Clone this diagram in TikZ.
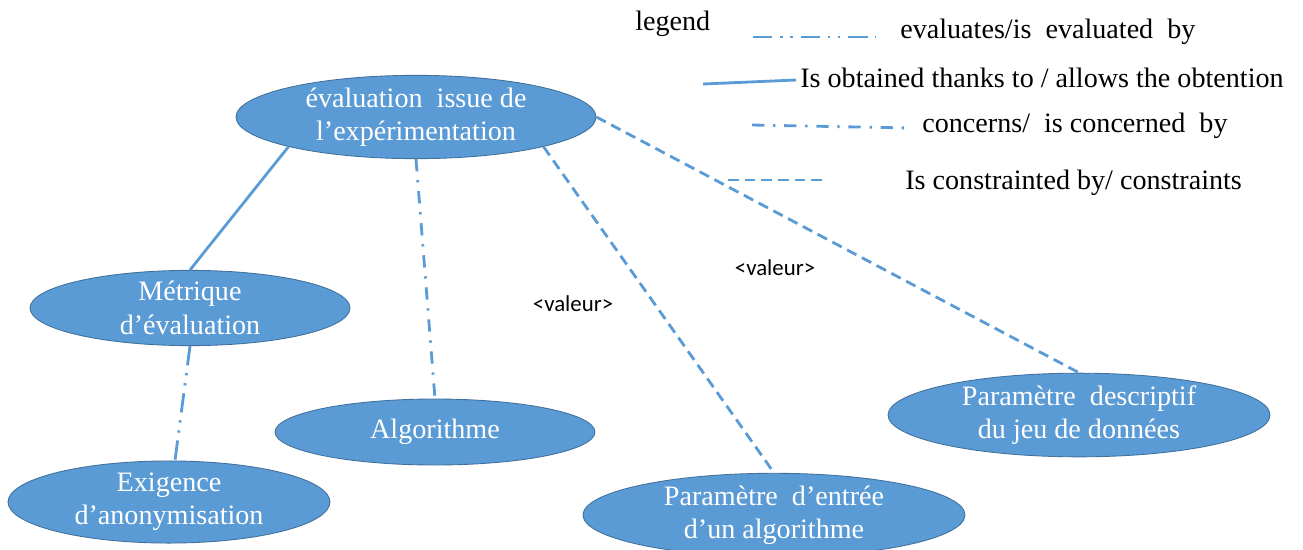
\documentclass[tikz,border=0pt]{standalone}
\usepackage{fontspec}
\setmainfont{Liberation Serif}
\newfontfamily\calibri{Carlito}
\usetikzlibrary{shapes.geometric}
\definecolor{boxblue}{RGB}{91,155,213}
\definecolor{rimblue}{RGB}{65,113,156}
\tikzset{
  bubble/.style={ellipse, fill=boxblue, draw=rimblue, line width=0.5pt,
    text=white, align=center, inner sep=0pt,
    font=\fontsize{16}{19}\selectfont},
  obtained/.style={draw=boxblue, line width=1.6pt},
  evaluates/.style={draw=boxblue, line width=1.6pt,
    dash pattern=on 11pt off 4.5pt on 1.3pt off 4.5pt on 1.3pt off 4.5pt},
  concerns/.style={draw=boxblue, line width=1.6pt,
    dash pattern=on 7pt off 5pt on 1.3pt off 5pt},
  constrains/.style={draw=boxblue, line width=1.6pt,
    dash pattern=on 6pt off 3.5pt},
  legendtext/.style={anchor=west, inner sep=0pt,
    font=\fontsize{16}{18}\selectfont},
  valtext/.style={inner sep=0pt, font=\calibri\fontsize{13}{15}\selectfont}
}

\begin{document}
\begin{tikzpicture}[x=0.02cm, y=-0.02cm]
  \useasboundingbox (0,0) rectangle (1303,549);

  % concepts
  \node[bubble, minimum width=7.2cm, minimum height=1.32cm] (eval) at (416,117)
    {évaluation~ issue de\\l’expérimentation};
  \node[bubble, minimum width=6.4cm, minimum height=1.32cm] (metric) at (190,308)
    {Métrique\\d’évaluation};
  \node[bubble, minimum width=6.4cm, minimum height=1.32cm] (algo) at (435,432)
    {Algorithme};
  \node[bubble, minimum width=6.44cm, minimum height=1.28cm] (exig) at (169,502)
    {Exigence\\d’anonymisation};
  \node[bubble, minimum width=7.64cm, minimum height=1.32cm] (entree) at (774,515)
    {Paramètre~ d’entrée\\d’un algorithme};
  \node[bubble, minimum width=7.64cm, minimum height=1.4cm] (descr) at (1079,415)
    {Paramètre~ descriptif\\du jeu de données};

  % relations
  \draw[obtained] (eval.south west) -- (metric.north);
  \draw[concerns] (eval.south) -- (algo.north);
  \draw[evaluates] (metric.south) -- ([xshift=0.12cm]exig.north);
  \draw[constrains] (eval.south east) -- (entree.north);
  \draw[constrains] (eval.east) -- (descr.north);

  \node[valtext] (val1) at (573,304) {<valeur>};
  \node[valtext] (val2) at (775,268) {<valeur>};

  % legend
  \node[legendtext] (leg) at (635,24) {legend};
  \coordinate (e1) at (753,37);  \coordinate (e2) at (876,37);
  \coordinate (o1) at (703,84);  \coordinate (o2) at (796,80);
  \coordinate (c1) at (752,125); \coordinate (c2) at (910,128);
  \coordinate (k1) at (728,180); \coordinate (k2) at (827,180);
  \draw[evaluates] (e1) -- (e2);
  \draw[obtained] (o1) -- (o2);
  \draw[concerns] (c1) -- (c2);
  \draw[constrains] (k1) -- (k2);
  \node[legendtext] (legE) at (900,32) {evaluates/is~ evaluated~ by};
  \node[legendtext] (legO) at (800,78) {Is obtained thanks to / allows the obtention};
  \node[legendtext] (legC) at (922,126) {concerns/~ is concerned~ by};
  \node[legendtext] (legK) at (905,183) {Is constrainted by/ constraints};
\end{tikzpicture}
\end{document}
